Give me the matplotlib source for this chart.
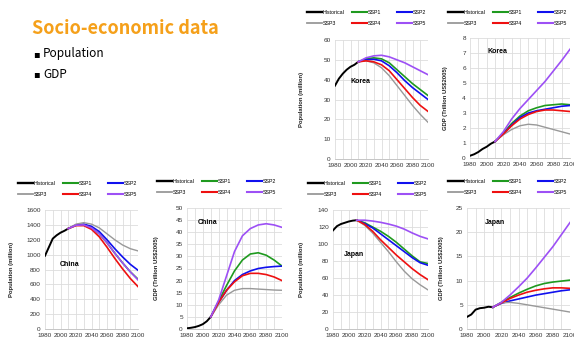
import matplotlib
matplotlib.use("Agg")
import matplotlib.pyplot as plt
from matplotlib.lines import Line2D

W, H = 574, 343

HIST_YEARS = [1980, 1985, 1990, 1995, 2000, 2005, 2010]
SSP_YEARS = [2010, 2020, 2030, 2040, 2050, 2060, 2070, 2080, 2090, 2100]
SERIES = ["Historical", "SSP1", "SSP2", "SSP3", "SSP4", "SSP5"]

# Korea
korea_pop_hist = [37, 40.5, 43, 45, 46.5, 47.5, 49]
korea_pop_ssp1 = [49, 50.5, 51, 50.5, 48.5, 45, 41.5, 38, 35, 32]
korea_pop_ssp2 = [49, 50, 50.3, 49.5, 47, 43.5, 39.5, 36, 33, 30]
korea_pop_ssp3 = [49, 49.5, 48.5, 46, 42, 37, 32, 27, 22.5, 18.5]
korea_pop_ssp4 = [49, 49.5, 49, 47.5, 44.5, 40, 35.5, 31, 27, 24]
korea_pop_ssp5 = [49, 51, 52, 52.3, 51.5, 50, 48.5, 46.5, 44.5, 42.5]

korea_gdp_hist = [0.15, 0.25, 0.4, 0.6, 0.75, 0.95, 1.1]
korea_gdp_ssp1 = [1.1, 1.65, 2.3, 2.8, 3.15, 3.35, 3.5, 3.55, 3.6, 3.55]
korea_gdp_ssp2 = [1.1, 1.6, 2.2, 2.7, 3.0, 3.15, 3.25, 3.35, 3.45, 3.5]
korea_gdp_ssp3 = [1.1, 1.55, 1.9, 2.15, 2.25, 2.2, 2.05, 1.9, 1.75, 1.6]
korea_gdp_ssp4 = [1.1, 1.6, 2.15, 2.6, 2.9, 3.1, 3.2, 3.2, 3.15, 3.1]
korea_gdp_ssp5 = [1.1, 1.75, 2.6, 3.3, 3.9, 4.5, 5.1, 5.8, 6.5, 7.25]

# China
china_pop_hist = [985, 1100, 1215, 1260, 1295, 1320, 1350]
china_pop_ssp1 = [1350, 1395, 1400, 1360, 1280, 1160, 1020, 890, 770, 670]
china_pop_ssp2 = [1350, 1400, 1410, 1380, 1310, 1200, 1080, 970, 870, 790]
china_pop_ssp3 = [1350, 1410, 1430, 1410, 1360, 1280, 1200, 1130, 1080, 1050]
china_pop_ssp4 = [1350, 1390, 1390, 1340, 1240, 1100, 950, 810, 680, 570]
china_pop_ssp5 = [1350, 1395, 1400, 1360, 1280, 1160, 1020, 890, 770, 660]

china_gdp_hist = [0.3, 0.5, 0.8, 1.3, 2.0, 3.2, 5.0]
china_gdp_ssp1 = [5, 11.5, 18, 24, 28.5, 31, 31.5, 30.5, 28.5, 26]
china_gdp_ssp2 = [5, 11, 16, 20, 22.5, 24, 25, 25.5, 25.8, 26]
china_gdp_ssp3 = [5, 10, 14, 16, 16.7, 16.7, 16.5, 16.3, 16.1, 16]
china_gdp_ssp4 = [5, 11, 16, 19.5, 22, 23, 23, 22.5, 21.5, 20]
china_gdp_ssp5 = [5, 12, 22, 32, 38.5, 41.5, 43, 43.5, 43, 42]

# Japan
japan_pop_hist = [116, 121, 123.5, 125, 126.5, 127.5, 128]
japan_pop_ssp1 = [128, 125, 120, 115, 109, 102, 94, 86, 79, 77]
japan_pop_ssp2 = [128, 124, 119, 112, 105, 98, 91, 84, 78, 75]
japan_pop_ssp3 = [128, 122, 113, 102, 91, 79, 68, 59, 52, 46]
japan_pop_ssp4 = [128, 123, 115, 105, 96, 87, 79, 71, 64, 58]
japan_pop_ssp5 = [128, 128, 127, 125.5, 123.5, 121, 117.5, 113, 109, 106]

japan_gdp_hist = [2.5, 3.0, 4.0, 4.3, 4.4, 4.6, 4.5]
japan_gdp_ssp1 = [4.5, 5.5, 6.5, 7.4, 8.2, 8.9, 9.4, 9.7, 9.9, 10.1]
japan_gdp_ssp2 = [4.5, 5.3, 5.8, 6.2, 6.6, 7.0, 7.3, 7.6, 7.9, 8.1]
japan_gdp_ssp3 = [4.5, 5.4, 5.5, 5.3, 5.0, 4.7, 4.4, 4.1, 3.8, 3.5]
japan_gdp_ssp4 = [4.5, 5.4, 6.3, 7.0, 7.6, 8.0, 8.3, 8.5, 8.5, 8.4]
japan_gdp_ssp5 = [4.5, 5.5, 7.0, 8.7, 10.5, 12.6, 14.8, 17, 19.5, 22]

COLORS = {"Historical": "black", "SSP1": "#1f9a1f", "SSP2": "#1010ee",
          "SSP3": "#999999", "SSP4": "#ee1010", "SSP5": "#9d50f5"}
WIDTHS = {"Historical": 1.4, "SSP1": 1.2, "SSP2": 1.2,
          "SSP3": 1.0, "SSP4": 1.2, "SSP5": 1.2}

FONT = "Liberation Sans"

# (data, ylabel, ymax, ystep, country, label pos, axes px box, legend px, ylabel x)
charts = [
    ([korea_pop_hist, korea_pop_ssp1, korea_pop_ssp2, korea_pop_ssp3, korea_pop_ssp4, korea_pop_ssp5],
     "Population (million)", 60, 10, "Korea", (2000, 39),
     (335, 428, 40, 159), (307, 14), 302),
    ([korea_gdp_hist, korea_gdp_ssp1, korea_gdp_ssp2, korea_gdp_ssp3, korea_gdp_ssp4, korea_gdp_ssp5],
     "GDP (Trillion US$2005)", 8, 1, "Korea", (2001, 7.1),
     (470, 570, 38, 158), (448, 14), 445),
    ([china_pop_hist, china_pop_ssp1, china_pop_ssp2, china_pop_ssp3, china_pop_ssp4, china_pop_ssp5],
     "Population (million)", 1600, 200, "China", (1999, 870),
     (45, 138, 210, 329), (18, 185), 12),
    ([china_gdp_hist, china_gdp_ssp1, china_gdp_ssp2, china_gdp_ssp3, china_gdp_ssp4, china_gdp_ssp5],
     "GDP (Trillion US$2005)", 50, 5, "China", (1994, 44),
     (187, 282, 208, 329), (157, 183), 157),
    ([japan_pop_hist, japan_pop_ssp1, japan_pop_ssp2, japan_pop_ssp3, japan_pop_ssp4, japan_pop_ssp5],
     "Population (million)", 140, 20, "Japan", (1994, 88),
     (333, 428, 210, 329), (308, 185), 302),
    ([japan_gdp_hist, japan_gdp_ssp1, japan_gdp_ssp2, japan_gdp_ssp3, japan_gdp_ssp4, japan_gdp_ssp5],
     "GDP (Trillion US$2005)", 25, 5, "Japan", (2001, 22),
     (467, 570, 208, 329), (448, 183), 442),
]

fig = plt.figure(figsize=(W / 100, H / 100), dpi=100)

# header text
fig.text(32 / W, 1 - 28 / H, "Socio-economic data", color="#f5a01a",
         fontsize=13, fontweight="bold", family=["Noto Sans CJK KR", "DejaVu Sans"],
         va="center", ha="left")
for label, y in [("Population", 54), ("GDP", 74)]:
    fig.text(33 / W, 1 - y / H, "\u25aa", fontsize=7, va="center", ha="left",
             family=["DejaVu Sans"])
    fig.text(43 / W, 1 - y / H, label, fontsize=8.5, va="center", ha="left",
             family=["Noto Sans CJK KR", "DejaVu Sans"])

for data, ylabel, ymax, ystep, country, cpos, box, legpos, ylx in charts:
    l, r, t, b = box
    ax = fig.add_axes([l / W, 1 - b / H, (r - l) / W, (b - t) / H])
    for name, vals in zip(SERIES, data):
        xs = HIST_YEARS if name == "Historical" else SSP_YEARS
        ax.plot(xs, vals, color=COLORS[name], lw=WIDTHS[name], label=name)
    ax.set_xlim(1980, 2100)
    ax.set_ylim(0, ymax)
    ax.set_xticks(range(1980, 2101, 20))
    ax.set_xticks(range(1980, 2101, 10), minor=True)
    ax.set_yticks([ystep * i for i in range(int(round(ymax / ystep)) + 1)])
    ax.grid(True, which="both", axis="x", color="#dddddd", lw=0.6)
    ax.grid(True, which="major", axis="y", color="#dddddd", lw=0.6)
    ax.set_axisbelow(True)
    for s in ["top", "right", "left"]:
        ax.spines[s].set_visible(False)
    ax.spines["bottom"].set_color("#bcbcbc")
    ax.spines["bottom"].set_linewidth(0.6)
    ax.tick_params(which="both", length=0, labelsize=4.6, pad=3, colors="#333333")
    for lab in ax.get_xticklabels() + ax.get_yticklabels():
        lab.set_family(FONT)
    ax.text(cpos[0], cpos[1], country, fontsize=5, fontweight="bold", family=FONT,
            ha="left", va="center")
    fig.text(ylx / W, 1 - (t + b) / 2 / H, ylabel, rotation=90, fontsize=4.2,
             fontweight="bold", family=FONT, ha="center", va="center", color="#222222")

    # legend: three columns placed separately for fixed spacing
    handles = [Line2D([], [], color=COLORS[n], lw=WIDTHS[n] + 0.3) for n in SERIES]
    for c in range(3):
        hx = legpos[0] + 45 * c
        leg = ax.legend([handles[c], handles[c + 3]], [SERIES[c], SERIES[c + 3]],
                        loc="upper left", bbox_to_anchor=(hx / W, 1 - (legpos[1] - 4) / H),
                        bbox_transform=fig.transFigure, frameon=False,
                        prop={"family": FONT, "size": 3.8}, handlelength=2.8,
                        handletextpad=0.2, borderpad=0, borderaxespad=0,
                        labelspacing=1.2)
        if c < 2:
            ax.add_artist(leg)

fig.savefig("out.png", dpi=100)
